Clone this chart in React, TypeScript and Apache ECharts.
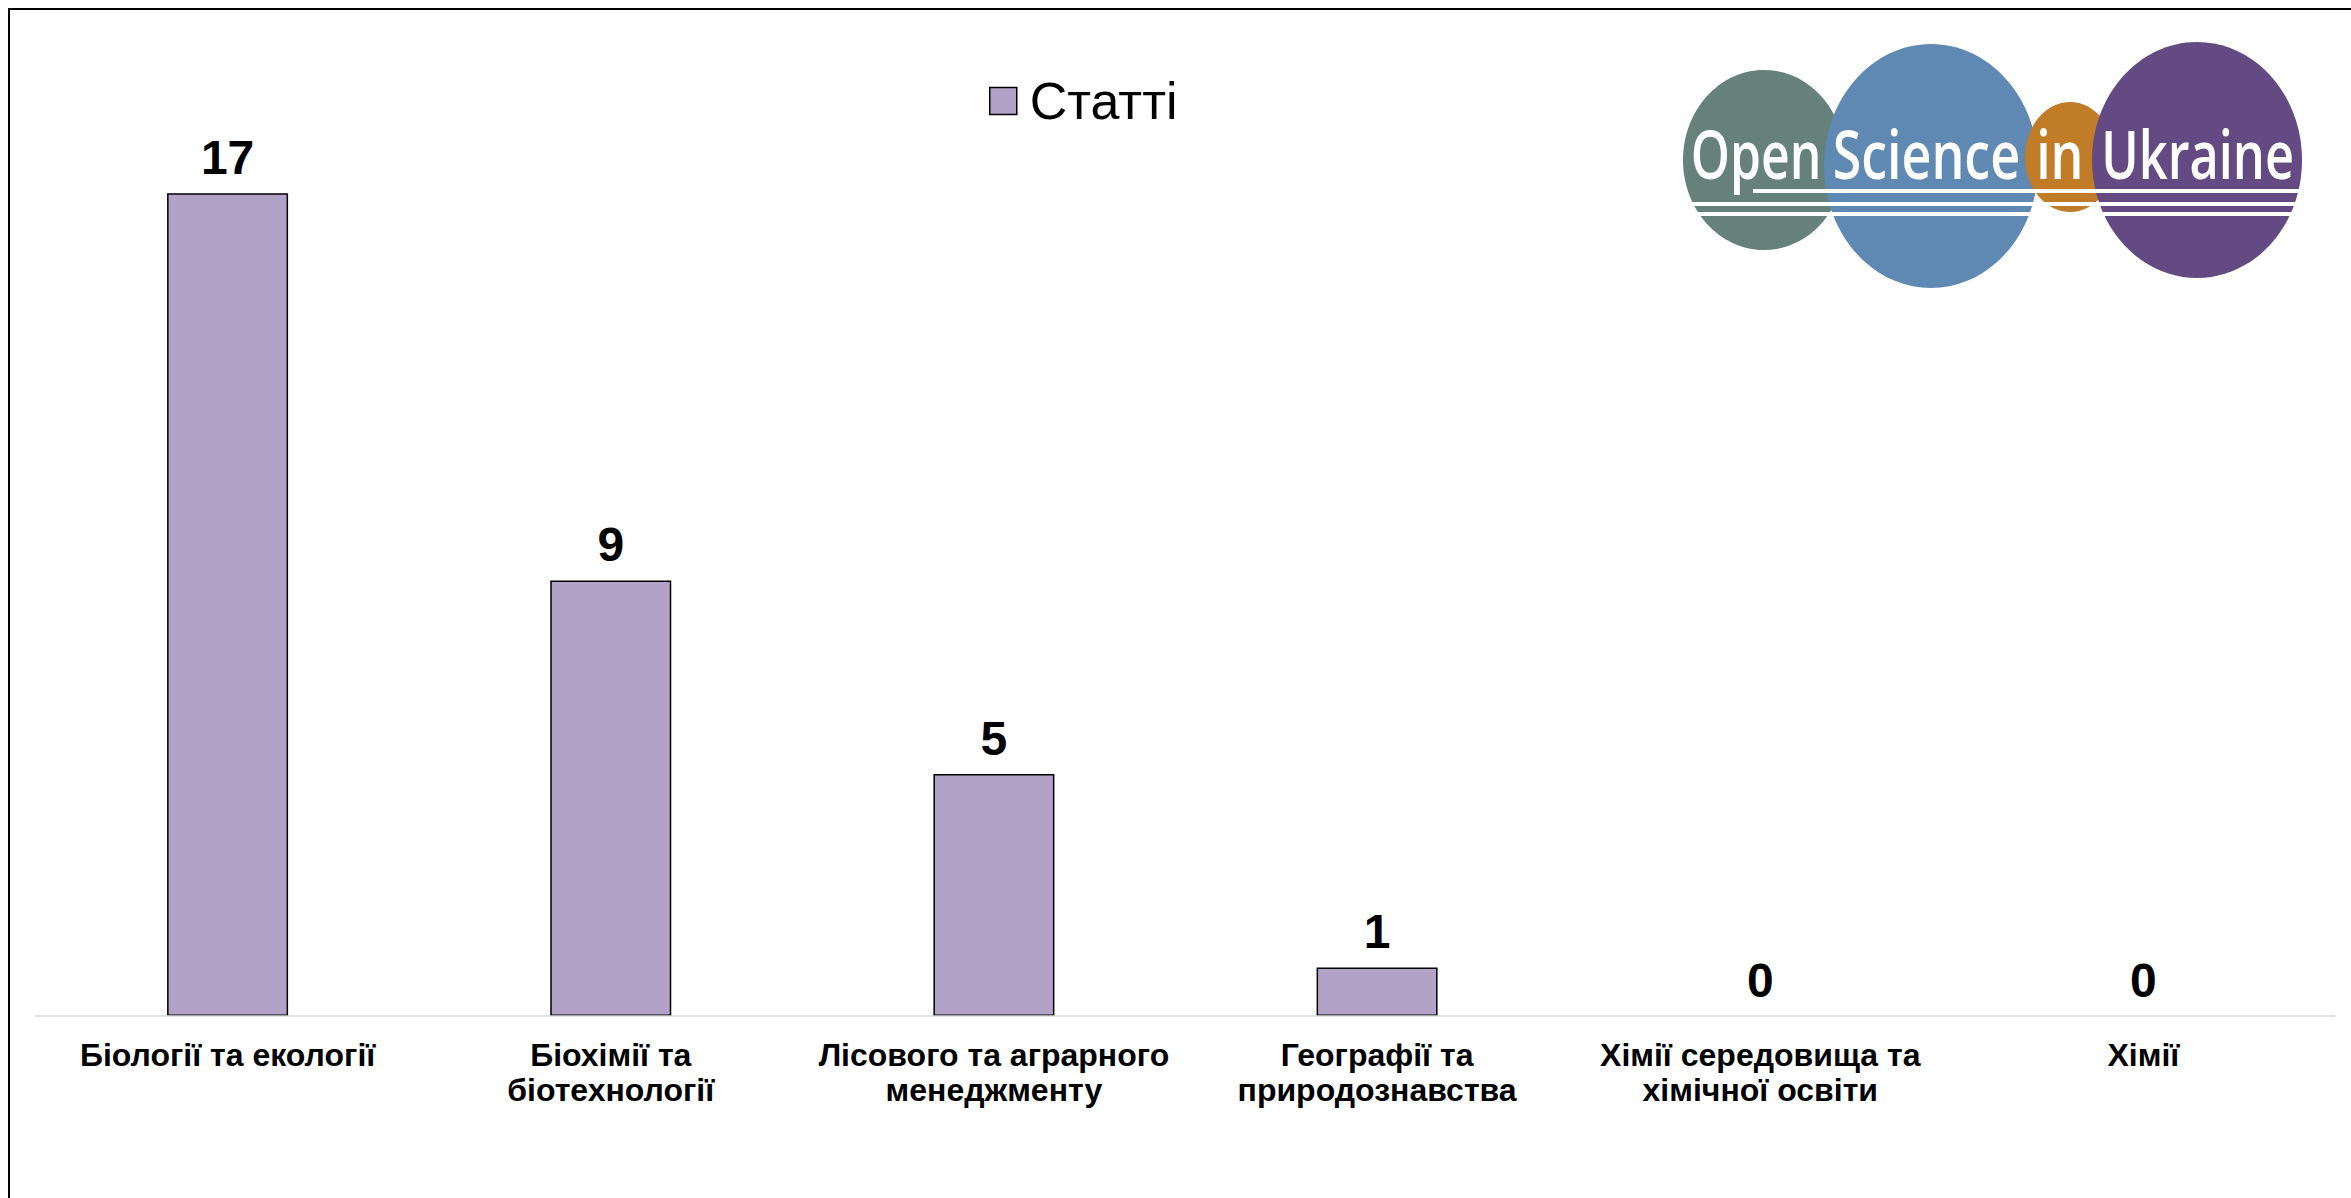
import React, { useEffect, useRef } from "react";
import * as echarts from "echarts";

const categories = [
  "Біології та екології",
  "Біохімії та\nбіотехнології",
  "Лісового та аграрного\nменеджменту",
  "Географії та\nприродознавства",
  "Хімії середовища та\nхімічної освіти",
  "Хімії",
];
const values = [17, 9, 5, 1, 0, 0];
const seriesName = "Статті";
const logoWords = ["Open", "Science", "in", "Ukraine"];

const FONT = '"Liberation Sans", Arial, sans-serif';

function measureInk(text: string, font: string) {
  const c = document.createElement("canvas");
  const ctx = c.getContext("2d")!;
  ctx.font = font;
  const m = ctx.measureText(text);
  const left = m.actualBoundingBoxLeft ?? 0;
  const right = m.actualBoundingBoxRight ?? m.width;
  return { left, width: left + right };
}

export default function App() {
  const ref = useRef<HTMLDivElement>(null);
  useEffect(() => {
    if (!ref.current) return;
    const chart = echarts.init(ref.current, null, { renderer: "svg" });

    // logo layout (chart coordinates)
    const logoFontSize = 67;
    const logoFont = `600 ${logoFontSize}px "Open Sans"`;
    const wordBoxes = [
      { left: 1683, width: 125 },
      { left: 1825, width: 183 },
      { left: 2030, width: 40 },
      { left: 2095, width: 187 },
    ];
    const wordEls = logoWords.map((w, i) => {
      const m = measureInk(w, logoFont);
      const s = wordBoxes[i].width / (m.width || 1);
      return {
        type: "text",
        x: wordBoxes[i].left + m.left * s,
        y: 143,
        scaleX: s,
        z: 10,
        style: {
          text: w,
          fill: "#ffffff",
          font: logoFont,
          align: "left",
          verticalAlign: "middle",
        },
      };
    });

    const ellipses = [
      { cx: 1754, cy: 150, rx: 81, ry: 90, fill: "#66807a" },
      { cx: 1921, cy: 156, rx: 107, ry: 122, fill: "#5f89b2" },
      { cx: 2060, cy: 147, rx: 45, ry: 55, fill: "#c17c27" },
      { cx: 2187, cy: 150, rx: 105, ry: 118, fill: "#634a82" },
    ].map((e, i) => ({
      type: "ellipse",
      z: 1 + i,
      shape: { cx: e.cx, cy: e.cy, rx: e.rx, ry: e.ry },
      style: { fill: e.fill },
    }));

    const stripes = [
      { x1: 1743, x2: 2292, y: 181 },
      { x1: 1680, x2: 2292, y: 194 },
      { x1: 1680, x2: 2292, y: 204 },
    ].map((l) => ({
      type: "line",
      z: 9,
      shape: { x1: l.x1, y1: l.y, x2: l.x2, y2: l.y },
      style: { stroke: "#ffffff", lineWidth: 4 },
    }));

    const option: any = {
      animation: false,
      backgroundColor: "#ffffff",
      legend: {
        data: [seriesName],
        left: 979,
        top: 65,
        padding: 0,
        itemWidth: 27,
        itemHeight: 27,
        icon: "rect",
        itemStyle: { borderColor: "#000", borderWidth: 1.5 },
        textStyle: {
          fontSize: 52,
          fontFamily: FONT,
          color: "#000",
          padding: [0, 0, 0, 8],
        },
      },
      grid: { left: 26, right: 16, top: 38, bottom: 182, containLabel: false },
      xAxis: {
        type: "category",
        data: categories,
        axisLine: { show: true, lineStyle: { color: "#d9d9d9", width: 1.5 } },
        axisTick: { show: false },
        axisLabel: {
          interval: 0,
          margin: 21,
          fontSize: 32,
          fontWeight: "bold",
          fontFamily: FONT,
          color: "#000",
          lineHeight: 35,
          align: "center",
        },
        z: 5,
      },
      yAxis: {
        type: "value",
        min: 0,
        max: 20,
        show: false,
        splitLine: { show: false },
      },
      series: [
        {
          name: seriesName,
          type: "bar",
          barWidth: 121,
          data: values.map((v) => ({
            value: v,
            itemStyle: v === 0 ? { borderWidth: 0 } : undefined,
          })),
          itemStyle: { color: "#b3a2c7", borderColor: "#000", borderWidth: 1.5 },
          label: {
            show: true,
            position: "top",
            distance: 12,
            fontSize: 48,
            fontWeight: "bold",
            fontFamily: FONT,
            color: "#000",
          },
        },
      ],
      graphic: [...ellipses, ...stripes, ...wordEls],
    };
    chart.setOption(option);
    return () => chart.dispose();
  }, []);

  return (
    <div
      style={{
        position: "fixed",
        left: 8,
        top: 8,
        width: 2343,
        height: 1190,
        boxSizing: "border-box",
        borderLeft: "2px solid #000",
        borderTop: "2px solid #000",
        background: "#fff",
      }}
    >
      <div ref={ref} style={{ width: 2341, height: 1188 }} />
    </div>
  );
}
